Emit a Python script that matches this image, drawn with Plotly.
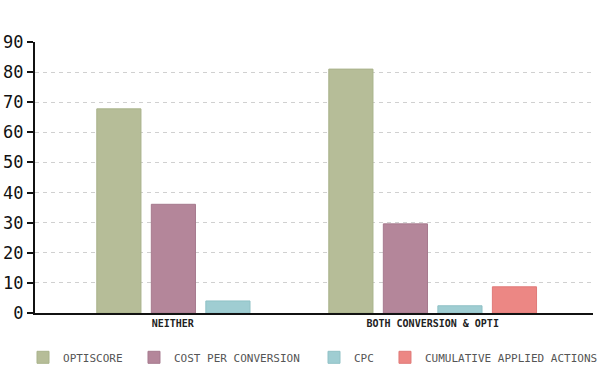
import plotly.graph_objects as go

categories = ["NEITHER", "BOTH CONVERSION & OPTI"]
series_names = ["OPTISCORE", "COST PER CONVERSION", "CPC", "CUMULATIVE APPLIED ACTIONS"]
optiscore = [67.8, 81.0]
cost_per_conversion = [36.1, 29.6]
cpc = [4.0, 2.4]
cumulative_applied_actions = [None, 8.7]
y_ticks = [0, 10, 20, 30, 40, 50, 60, 70, 80, 90]

fill_colors = ["#b6bd98", "#b4869a", "#9fcdd2", "#ec8784"]
line_colors = ["#a9b38b", "#a67a8e", "#90c1c6", "#e07a78"]
legend_ids = ["legend", "legend2", "legend3", "legend4"]
legend_x = [-0.0215, 0.1774, 0.5, 0.6272]

x_pos = list(range(len(categories)))
values = [optiscore, cost_per_conversion, cpc, cumulative_applied_actions]

mono = "DejaVu Sans Mono"
fig = go.Figure()
for name, vals, fc, lc, lg in zip(series_names, values, fill_colors, line_colors, legend_ids):
    fig.add_trace(go.Bar(
        x=x_pos, y=vals, name=name, legend=lg,
        marker=dict(color=fc, line=dict(color=lc, width=1)),
    ))

legend_style = dict(
    orientation="h", xanchor="left", y=-0.11, yanchor="top",
    font=dict(family=mono, size=11, color="#555"),
    itemwidth=30, bgcolor="rgba(0,0,0,0)",
)
legends = {lg: dict(legend_style, x=lx) for lg, lx in zip(legend_ids, legend_x)}

fig.update_layout(
    width=600, height=375,
    margin=dict(l=35, r=7, t=42, b=62, autoexpand=False),
    paper_bgcolor="white", plot_bgcolor="white",
    barmode="group", bargap=0.06, bargroupgap=0.19,
    font=dict(family=mono, color="#222"),
    showlegend=True,
    xaxis=dict(
        range=[-0.714, 1.691], tickmode="array",
        tickvals=[-0.12, 1.0], ticktext=categories,
        tickfont=dict(family=mono, size=10, color="#222", weight="bold"),
        showgrid=False, zeroline=False, showline=True,
        linecolor="#111", linewidth=2, ticks="", automargin=False,
    ),
    yaxis=dict(
        range=[0, 90], tickmode="array", tickvals=y_ticks,
        tickfont=dict(family=mono, size=17, color="#111"),
        showgrid=True, gridcolor="#d0d0d0", gridwidth=1, griddash="4px,4px",
        zeroline=False, showline=True, linecolor="#111", linewidth=2,
        ticks="outside", ticklen=6, tickwidth=2, tickcolor="#111",
        automargin=False,
    ),
    **legends,
)

fig.write_html("out.html", config={"displayModeBar": False},
               post_script="document.body.style.margin='0';")
